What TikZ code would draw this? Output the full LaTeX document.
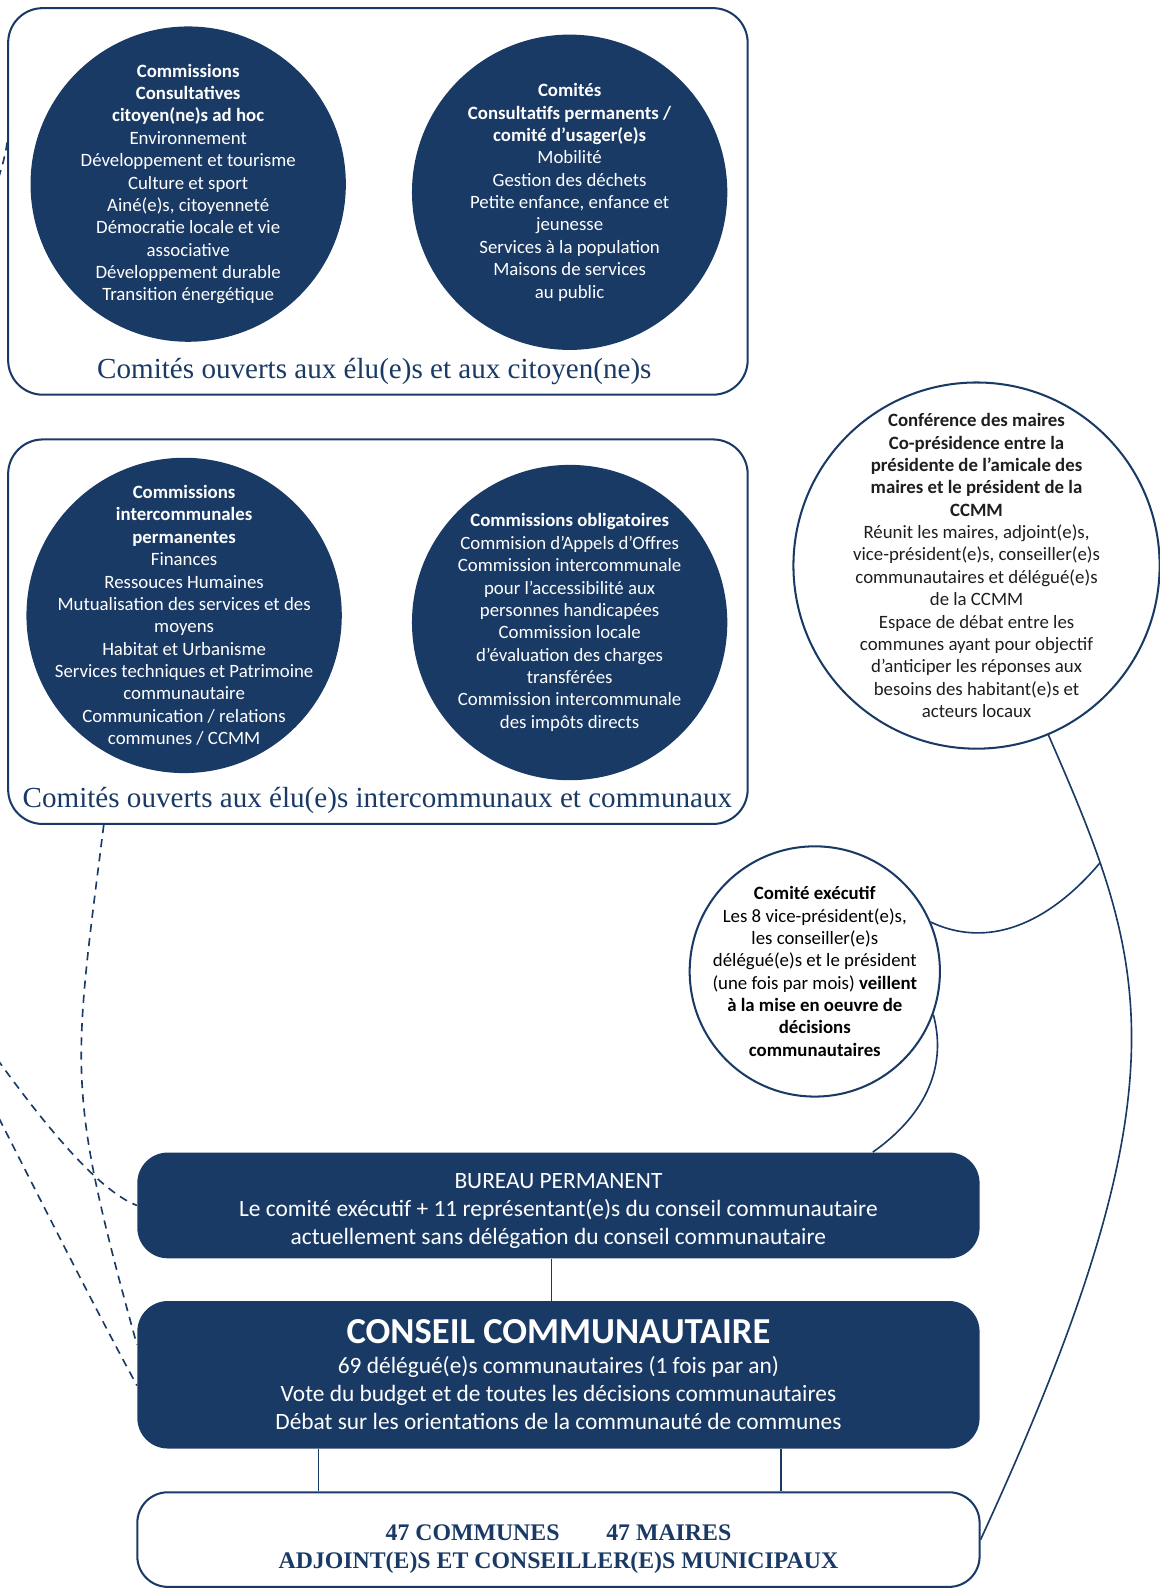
\documentclass[tikz,border=0pt]{standalone}
\usepackage{fontspec}
\setmainfont{Carlito}
\newfontfamily\titlefont{Liberation Serif}
\usetikzlibrary{calc}
\definecolor{navy}{HTML}{1A3A66}
\definecolor{ink}{HTML}{1E1E1E}

\begin{document}
\begin{tikzpicture}[x=0.5pt,y=-0.5pt,
  panel/.style={draw=navy,line width=1pt,rounded corners=17pt,minimum width=363.5pt},
  bubble/.style={circle,fill=navy,text=white,align=center,inner sep=-40pt,minimum size=155pt,font=\fontsize{9.25}{11}\selectfont},
  ring/.style={circle,draw=navy,fill=white,line width=1pt,text=ink,align=center,inner sep=-40pt,font=\fontsize{9.25}{11}\selectfont},
  block/.style={rounded corners=15pt,fill=navy,text=white,align=center,minimum width=414pt,font=\fontsize{11.5}{13.75}\selectfont},
  caption/.style={text=navy,font=\titlefont\fontsize{14.3}{17}\selectfont},
  link/.style={draw=navy,line width=0.8pt},
  dotlink/.style={link,dash pattern=on 4pt off 3pt}]
\useasboundingbox (0,0) rectangle (1140,1568);

\node[panel,minimum height=190pt] (citoyens) at (371.5,198) {};
\node[caption] (citoyenstitle) at (368,365) {Comités ouverts aux élu(e)s et aux citoyen(ne)s};
\node[panel,minimum height=189pt] (intercom) at (371.5,621) {};
\node[caption] (intercomtitle) at (371,787) {Comités ouverts aux élu(e)s intercommunaux et communaux};

\node[bubble] (adhoc) at (185,181) {\textbf{Commissions}\\\textbf{Consultatives}\\\textbf{citoyen(ne)s ad hoc}\\Environnement\\Développement et tourisme\\Culture et sport\\Ainé(e)s, citoyenneté\\Démocratie locale et vie\\associative\\Développement durable\\Transition énergétique};
\node[bubble] (usagers) at (560,189) {\textbf{Comités}\\\textbf{Consultatifs permanents /}\\\textbf{comité d’usager(e)s}\\Mobilité\\Gestion des déchets\\Petite enfance, enfance et\\jeunesse\\Services à la population\\Maisons de services\\au public};
\node[bubble] (permanentes) at (181,605) {\textbf{Commissions}\\\textbf{intercommunales}\\\textbf{permanentes}\\Finances\\Ressouces Humaines\\Mutualisation des services et des\\moyens\\Habitat et Urbanisme\\Services techniques et Patrimoine\\communautaire\\Communication / relations\\communes / CCMM};
\node[bubble] (obligatoires) at (560,612) {\textbf{Commissions obligatoires}\\Commision d’Appels d’Offres\\Commission intercommunale\\pour l’accessibilité aux\\personnes handicapées\\Commission locale\\d’évaluation des charges\\transférées\\Commission intercommunale\\des impôts directs};

\node[ring,minimum size=180pt] (conf) at (960,556) {\textbf{Conférence des maires}\\\textbf{Co-présidence entre la}\\\textbf{présidente de l’amicale des}\\\textbf{maires et le président de la}\\\textbf{CCMM}\\Réunit les maires, adjoint(e)s,\\vice-président(e)s, conseiller(e)s\\communautaires et délégué(e)s\\de la CCMM\\Espace de débat entre les\\communes ayant pour objectif\\d’anticiper les réponses aux\\besoins des habitant(e)s et\\acteurs locaux};
\node[ring,text=black,minimum size=123pt] (exec) at (801,955) {\textbf{Comité exécutif}\\Les 8 vice-président(e)s,\\les conseiller(e)s\\délégué(e)s et le président\\(une fois par mois) \textbf{veillent}\\\textbf{à la mise en oeuvre de}\\\textbf{décisions}\\\textbf{communautaires}};

\node[block,minimum height=52pt] (bureau) at (549,1185) {\rule{0pt}{13pt}BUREAU PERMANENT\\Le comité exécutif + 11 représentant(e)s du conseil communautaire\\actuellement sans délégation du conseil communautaire};
\node[block,minimum height=72.5pt] (conseil) at (549,1351.5) {{\bfseries\fontsize{18}{20}\selectfont CONSEIL COMMUNAUTAIRE}\\[1pt]69 délégué(e)s communautaires (1 fois par an)\\Vote du budget et de toutes les décisions communautaires\\Débat sur les orientations de la communauté de communes};
\node[draw=navy,line width=1pt,rounded corners=15pt,fill=white,text=navy,align=center,minimum width=414pt,minimum height=46.5pt,font=\titlefont\bfseries\fontsize{11.7}{14}\selectfont] (communes) at (549,1513.5) {\rule{0pt}{17pt}47 COMMUNES\hspace{23pt}47 MAIRES\\ADJOINT(E)S ET CONSEILLER(E)S MUNICIPAUX};

\draw[link] ([xshift=-3.5pt]bureau.south) -- ([xshift=-3.5pt]conseil.north);
\draw[link] ([xshift=-118pt]conseil.south) -- ([xshift=-118pt]communes.north);
\draw[link] ([xshift=109.5pt]conseil.south) -- ([xshift=109.5pt]communes.north);

\draw[link] (conf.-67) .. controls (1129,948) and (1172,1062) .. (communes.east) coordinate[pos=0.2] (meet);
\draw[link] (exec.23) to[out=-25,in=-130] (meet);
\draw[link] (exec.-20) to[out=-75,in=35] ([xshift=154.5pt]bureau.north);

\coordinate (outleft) at (-20,1062);
\draw[dotlink] ([yshift=29pt]citoyens.west) .. controls (-5,230) and (-130,400) .. (-130,650) .. controls (-130,900) and (-30,1000) .. (0,1045) .. controls (40,1100) and (95,1170) .. (bureau.west);
\draw[dotlink] ([xshift=-134.75pt]intercom.south) .. controls (71,1056) and (65,1070) .. ([yshift=14.75pt]conseil.west);
\draw[dotlink] (outleft) .. controls (30,1160) and (90,1280) .. ([yshift=-5.25pt]conseil.west);
\end{tikzpicture}
\end{document}
